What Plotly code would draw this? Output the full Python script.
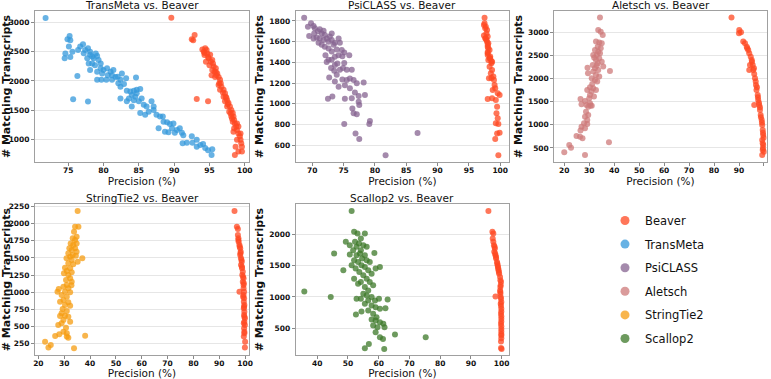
import plotly.graph_objects as go

# ---------------- data (precision %, # matching transcripts) ----------------
transmeta_pts = [(71.8,3080),(75.2,2770),(74.9,2714),(75.3,2700),(75.1,2590),(75.6,2500),(74.6,2470),(75.3,2410),(74.5,2390),(76.4,2530),(77.1,2630),(76.7,2590),(76.3,2085),(75.7,1686),(77.8,1646),
 (77.2,2474),(77.4,2530),(77.8,2560),(78.1,2500),(78.1,2450),(78.4,2420),(78.6,2390),(77.7,2390),(78.9,2470),(79.1,2430),(79.3,2360),(78.4,2300),(78.8,2270),(79.6,2300),(77.9,2300),(78.1,2190),(79.1,2160),(79.6,2220),(80.0,2190),(79.8,2130),(79.1,2020),(80.5,2220),(81.0,2160),(80.6,2100),(81.4,2190),(81.7,2070),(81.2,2020),(82.0,2074),(82.4,2020),(82.1,1960),(82.6,2130),(80.4,2020),(79.7,2020),(81.2,2100),(82.4,1900),(83.2,2045),(84.6,2060),(82.9,1950),(83.3,1830),(83.8,1820),(84.3,1830),(84.7,1850),(85.2,1860),(84.0,1760),(84.5,1730),(84.7,1790),(84.3,1670),(83.6,1700),(83.3,1650),(85.0,1650),(85.4,1700),(82.4,1700),(85.7,1590),(86.1,1560),(86.8,1650),(87.1,1560),(86.4,1470),(85.2,1450),(85.9,1420),(84.0,1560),(87.5,1420),(88.0,1390),(88.4,1390),(87.1,1500),(88.5,1300),(89.0,1290),(89.4,1260),(89.7,1190),(89.9,1270),(90.4,1160),(90.8,1190),(91.1,1110),(90.1,1110),(89.2,1120),(88.7,1130),(87.8,1190),(91.3,1070),(91.2,930),(91.8,940),(92.6,940),(92.5,1050),(93.2,870),(93.7,900),(94.1,920),(94.4,850),(94.8,810),(95.4,830),(95.3,730),(93.2,990)]
beaver_vs_transmeta = [(89.6,3086),(92.9,2790),(92.5,2714),(92.7,2700),(94.4,2560),(94.6,2530),(94.2,2500),(94.7,2470),(95.1,2450),(94.9,2390),(95.4,2360),(95.5,2300),(95.6,2250),(95.9,2220),(95.7,2160),(96.1,2130),(96.3,2070),(95.3,2100),(96.5,2020),(96.4,1960),(96.7,1900),(97.0,1850),(97.2,1790),(97.3,1730),(97.5,1670),(97.7,1620),(97.9,1560),(98.1,1500),(98.3,1450),(98.4,1390),(98.5,1330),(98.6,1270),(98.8,1220),(98.9,1160),(99.1,1100),(99.3,1050),(99.4,990),(99.5,930),(99.6,870),(98.9,990),(98.7,870),(98.6,730),(99.1,790),(99.6,790),(93.2,1690),(94.8,1650),(94.3,2445),(94.5,2330),(95.0,2270),(95.4,2190),(95.8,2070),(96.3,1930),(96.5,1850),(97.0,1730),(97.2,1650),(97.5,1560),(97.8,1470),(98.1,1390),(98.3,1300),(98.5,1190),(98.9,1270),(99.1,1220),(98.4,1130),(99.4,1100),(94.0,2540),(94.3,2480),(94.8,2410),(95.2,2330),(95.9,2160),(96.0,2100),(96.6,1960),(96.9,1800),(97.4,1710),(97.6,1600),(98.0,1440),(98.2,1350)]

psiclass_pts = [(68.7,1832),(69.3,1745),(69.8,1777),(70.2,1752),(69.5,1655),(70.4,1730),(70.9,1700),(70.3,1680),(71.2,1720),(71.5,1680),(71.8,1705),(70.2,1630),(70.7,1640),(71.2,1630),(72.0,1665),(71.0,1590),(71.8,1615),(72.3,1630),(72.6,1600),(72.8,1650),(73.1,1615),(71.5,1570),(72.0,1550),(72.6,1535),(73.4,1570),(73.6,1590),(74.2,1630),(74.4,1590),(73.9,1525),(73.1,1505),(72.1,1470),(72.6,1425),(73.1,1425),(73.6,1455),(74.2,1470),(74.8,1460),(75.9,1470),(75.1,1495),(72.3,1405),(73.6,1375),(74.0,1390),(73.0,1345),(73.5,1320),(74.4,1330),(74.9,1345),(75.5,1330),(76.3,1330),(73.9,1280),(72.7,1255),(74.8,1235),(75.5,1230),(76.0,1245),(76.6,1230),(73.6,1215),(74.2,1165),(75.2,1180),(76.0,1150),(77.1,1200),(78.2,1205),(76.8,1110),(77.4,1075),(78.4,1085),(76.3,1055),(75.2,1050),(72.5,1050),(73.2,1070),(77.4,1020),(77.5,990),(76.4,955),(76.6,910),(77.1,900),(79.2,835),(79.1,805),(75.1,805),(76.9,715),(77.5,660),(81.7,505),(86.8,720),(73.1,1680),(74.7,1520),(75.1,1395)]
beaver_vs_psiclass = [(97.5,1832),(97.5,1777),(97.7,1745),(97.9,1713),(97.8,1680),(98.0,1650),(97.8,1617),(98.1,1585),(98.0,1552),(98.3,1520),(98.0,1488),(98.4,1456),(98.1,1424),(98.6,1391),(98.3,1359),(98.7,1327),(98.5,1295),(98.9,1263),(99.0,1230),(99.1,1182),(99.2,1150),(98.8,1134),(99.6,1102),(99.9,1086),(98.7,1054),(98.0,1047),(99.3,1038),(99.5,973),(99.4,909),(99.6,860),(99.3,812),(99.7,806),(99.5,715),(99.9,722),(99.2,661),(99.7,505),(97.6,1729),(97.9,1600),(98.1,1536),(98.4,1440),(98.7,1407),(98.0,1472),(97.6,1633),(98.2,1247),(97.4,1760),(97.7,1630),(98.0,1570),(98.3,1440),(98.6,1410),(98.0,1500),(97.4,1660),(98.6,1250)]

aletsch_pts = [(34.3,3317),(33.6,3050),(34.6,3014),(35.4,2942),(32.7,2800),(34.0,2777),(35.0,2762),(33.4,2690),(34.6,2654),(32.3,2618),(33.6,2582),(34.3,2546),(33.0,2510),(31.6,2510),(34.0,2438),(32.7,2402),(35.0,2366),(33.4,2330),(31.4,2294),(35.6,2258),(29.3,2236),(32.3,2222),(33.6,2186),(38.3,2164),(31.6,2150),(32.7,2078),(34.0,2042),(31.0,2006),(32.3,1970),(33.2,1934),(30.3,1811),(31.6,1790),(29.2,1754),(30.9,1718),(32.7,1754),(30.3,1646),(31.9,1610),(30.0,1574),(26.5,1559),(28.3,1516),(30.3,1466),(26.9,1444),(28.9,1429),(31.0,1415),(29.6,1393),(28.7,1285),(29.6,1213),(28.3,1177),(29.2,1105),(27.9,1033),(29.2,1019),(26.9,961),(28.3,925),(26.5,875),(27.3,709),(26.3,745),(24.9,759),(22.0,565),(22.7,507),(20.0,406),(28.3,349),(37.9,622),(29.5,2113),(32.0,2450),(33.0,2280),(31.2,1880),(30.5,1420)]
beaver_vs_aletsch = [(87.0,3317),(90.1,3050),(90.8,3000),(90.0,2978),(91.7,2800),(92.4,2762),(93.1,2690),(93.7,2618),(94.1,2546),(94.7,2474),(95.1,2402),(94.4,2294),(95.5,2294),(95.7,2186),(94.1,2186),(96.1,2100),(96.4,2006),(96.8,1862),(97.0,1754),(97.5,1646),(97.7,1537),(96.1,1429),(98.1,1429),(98.4,1321),(98.7,1213),(99.1,1105),(99.3,997),(99.5,889),(99.7,781),(99.3,673),(99.7,565),(99.5,457),(99.3,349),(100.0,420),(93.3,2654),(95.2,2366),(96.0,2222),(96.7,1934),(97.2,1811),(97.6,1595),(98.0,1480),(98.4,1379),(98.8,1163),(99.2,1048),(99.6,831),(99.9,723),(99.5,601),(99.6,493)]

stringtie2_pts = [(35.2,2187),(34.2,1957),(35.5,1957),(33.8,1884),(34.8,1811),(33.3,1787),(34.2,1762),(32.5,1713),(34.8,1713),(33.5,1689),(32.0,1640),(34.2,1640),(32.9,1616),(34.8,1591),(31.6,1567),(33.3,1543),(32.3,1518),(34.5,1533),(30.9,1494),(32.9,1470),(35.2,1445),(37.0,1494),(31.6,1421),(33.5,1406),(30.3,1357),(32.3,1348),(31.0,1309),(32.9,1289),(29.9,1274),(31.6,1250),(32.3,1201),(30.7,1177),(32.9,1152),(31.0,1104),(29.7,1079),(31.6,1055),(30.3,1006),(27.4,1006),(32.3,996),(29.0,957),(31.0,933),(29.7,884),(28.4,860),(31.6,850),(30.3,811),(32.3,801),(29.4,752),(31.0,723),(29.0,689),(30.3,655),(28.4,650),(31.6,640),(29.7,591),(32.3,567),(29.0,543),(27.7,518),(30.7,479),(29.7,421),(31.0,396),(28.1,382),(26.5,357),(31.0,348),(38.1,362),(31.6,333),(22.6,274),(24.8,226),(23.9,187),(33.8,177),(27.9,1045),(32.8,1100)]
beaver_vs_stringtie2 = [(95.9,2187),(96.8,1957),(97.2,1923),(97.2,1835),(97.4,1787),(97.5,1738),(97.8,1689),(98.1,1640),(98.3,1591),(98.1,1543),(98.4,1494),(98.7,1445),(98.4,1396),(98.8,1348),(99.1,1299),(98.9,1250),(99.4,1201),(99.1,1152),(99.4,1104),(97.8,1006),(99.4,1055),(99.6,1006),(99.4,957),(99.6,909),(99.5,860),(99.7,811),(99.5,762),(99.7,713),(99.6,665),(99.9,616),(99.7,567),(99.9,518),(99.6,470),(99.7,421),(99.5,348),(100.0,274),(99.9,187),(97.4,1762),(97.9,1665),(98.2,1567),(98.6,1470),(98.8,1372),(99.2,1226),(99.5,1128),(99.2,933),(99.6,787),(99.7,640),(99.5,543),(99.7,396)]

scallop2_pts = [(51.2,2375),(52.0,2043),(53.1,2016),(55.5,2016),(54.2,1936),(52.3,1882),(49.3,1882),(53.6,1855),(50.6,1829),(55.0,1829),(52.8,1802),(56.1,1802),(51.7,1748),(54.2,1748),(53.9,1695),(45.5,1695),(52.8,1668),(50.6,1679),(55.5,1668),(58.6,1705),(54.6,1614),(52.0,1588),(56.1,1588),(53.3,1561),(57.1,1561),(54.4,1507),(51.2,1507),(55.5,1480),(52.5,1454),(59.0,1454),(60.4,1480),(56.6,1427),(48.5,1427),(53.7,1400),(57.7,1373),(55.0,1346),(56.1,1293),(54.2,1239),(57.1,1239),(58.2,1186),(55.5,1159),(56.6,1105),(35.8,1089),(44.4,998),(55.0,1052),(56.1,1025),(57.7,998),(54.2,971),(56.6,945),(58.8,945),(60.1,971),(62.9,961),(55.5,891),(57.7,864),(59.0,837),(60.4,811),(62.2,821),(56.6,784),(54.4,768),(52.6,720),(58.2,730),(59.3,677),(57.7,639),(59.0,623),(60.4,596),(61.5,570),(58.2,543),(59.6,516),(61.9,516),(59.0,436),(65.3,398),(60.4,355),(61.4,329),(75.3,355),(56.8,248),(55.5,179),(61.8,168),(52.8,971),(53.3,1213),(52.0,1293)]
beaver_vs_scallop2 = [(95.7,2375),(97.0,2043),(97.3,2016),(97.1,1936),(97.3,1882),(97.5,1829),(97.8,1775),(97.6,1722),(98.0,1668),(98.2,1614),(98.5,1561),(98.7,1507),(98.9,1454),(99.1,1400),(99.5,1320),(99.8,1239),(99.6,1159),(99.5,1105),(99.6,1052),(98.0,1009),(99.8,971),(99.7,891),(99.9,811),(99.8,730),(99.9,650),(99.8,570),(99.9,489),(99.9,409),(99.9,339),(99.8,184),(100.0,168),(97.7,1802),(97.9,1695),(98.2,1641),(98.6,1534),(98.8,1480),(99.0,1427),(99.2,1373),(99.6,1266),(99.7,1186),(99.6,1079),(99.7,998),(99.9,918),(99.8,854),(99.9,768),(99.9,693),(99.9,607),(99.9,532),(99.9,446),(99.9,382),(99.8,286)]

tools = ["TransMeta", "PsiCLASS", "Aletsch", "StringTie2", "Scallop2"]
tool_points = [transmeta_pts, psiclass_pts, aletsch_pts, stringtie2_pts, scallop2_pts]
beaver_points = [beaver_vs_transmeta, beaver_vs_psiclass, beaver_vs_aletsch, beaver_vs_stringtie2, beaver_vs_scallop2]
legend_names = ["Beaver", "TransMeta", "PsiCLASS", "Aletsch", "StringTie2", "Scallop2"]

# ---------------- styling ----------------
colors = {"Beaver": "rgba(255,72,34,0.75)", "TransMeta": "rgba(52,152,219,0.75)",
          "PsiCLASS": "rgba(134,99,144,0.75)", "Aletsch": "rgba(206,122,122,0.75)",
          "StringTie2": "rgba(246,156,16,0.75)", "Scallop2": "rgba(60,120,40,0.75)"}
W, H = 771, 379
# panel boxes in pixels: (left, right, top, bottom)
boxes = [(35, 249, 11, 162), (295.7, 509, 11, 162), (554.3, 766.7, 11, 162),
         (35, 249, 204.3, 355), (295.7, 509, 204.3, 355)]
xranges = [[70.3, 100.6], [67.35, 101.4], [16, 101.1], [18.7, 101.5], [33, 102.4]]
yranges = [[610, 3200], [439, 1896], [197, 3460], [79, 2285], [72, 2482]]
xticks = [list(range(75, 101, 5)), list(range(70, 101, 5)), list(range(20, 101, 10)),
          list(range(20, 101, 10)), list(range(40, 101, 10))]
yticks = [list(range(1000, 3001, 500)), list(range(600, 1801, 200)), list(range(500, 3001, 500)),
          list(range(250, 2251, 250)), list(range(500, 2001, 500))]

FONT = "DejaVu Sans"
fig = go.Figure()
annotations = []
for i, tool in enumerate(tools):
    xa = "x" if i == 0 else f"x{i+1}"
    ya = "y" if i == 0 else f"y{i+1}"
    tx, ty = zip(*tool_points[i])
    bx, by = zip(*beaver_points[i])
    fig.add_trace(go.Scatter(x=tx, y=ty, mode="markers", xaxis=xa, yaxis=ya, showlegend=False,
                             marker=dict(size=6, color=colors[tool], line=dict(width=0)),
                             name=tool))
    fig.add_trace(go.Scatter(x=bx, y=by, mode="markers", xaxis=xa, yaxis=ya, showlegend=False,
                             marker=dict(size=6, color=colors["Beaver"], line=dict(width=0)),
                             name="Beaver"))
    l, r, t, b = boxes[i]
    dx = [l / W, r / W]
    dy = [1 - b / H, 1 - t / H]
    axis_common = dict(showline=True, mirror=True, linecolor="#a0a0a0", linewidth=1,
                       ticks="outside", ticklen=3, tickcolor="#888", zeroline=False,
                       automargin=False,
                       tickfont=dict(family=FONT, size=7.5, color="#111", weight="bold"))
    fig.layout[("xaxis" if i == 0 else f"xaxis{i+1}")] = dict(
        domain=dx, anchor=ya, range=xranges[i], tickvals=xticks[i], showgrid=False,
        ticklabelstandoff=-2,
        title=dict(text="Precision (%)", font=dict(family=FONT, size=10.5, color="#111"), standoff=2),
        **axis_common)
    fig.layout[("yaxis" if i == 0 else f"yaxis{i+1}")] = dict(
        domain=dy, anchor=xa, range=yranges[i], tickvals=yticks[i], showgrid=True,
        gridcolor="#e6e6e6", gridwidth=0.8,
        title=dict(text="# Matching Transcripts", font=dict(family=FONT, size=11, color="#111", weight="bold"), standoff=3),
        **axis_common)
    annotations.append(dict(text=f"{tool} vs. Beaver", x=(dx[0] + dx[1]) / 2, y=dy[1],
                            xref="paper", yref="paper", xanchor="center", yanchor="bottom",
                            yshift=-2, showarrow=False,
                            font=dict(family=FONT, size=10.5, color="#111")))

# legend-only entries
for name in legend_names:
    fig.add_trace(go.Scatter(x=[None], y=[None], mode="markers", name=name, legendgroup=name,
                             marker=dict(size=9, color=colors[name]), showlegend=True))

fig.update_layout(
    width=W, height=H, margin=dict(l=0, r=0, t=0, b=0),
    paper_bgcolor="white", plot_bgcolor="white",
    annotations=annotations,
    legend=dict(x=605 / W, y=1 - 206 / H, xanchor="left", yanchor="top",
                font=dict(family=FONT, size=11.5, color="#111"), tracegroupgap=4.6,
                itemsizing="trace", bgcolor="rgba(0,0,0,0)"),
)
fig.write_html("out.html", config={"displayModeBar": False},
               post_script="document.body.style.margin='0';document.body.style.overflow='hidden';")
